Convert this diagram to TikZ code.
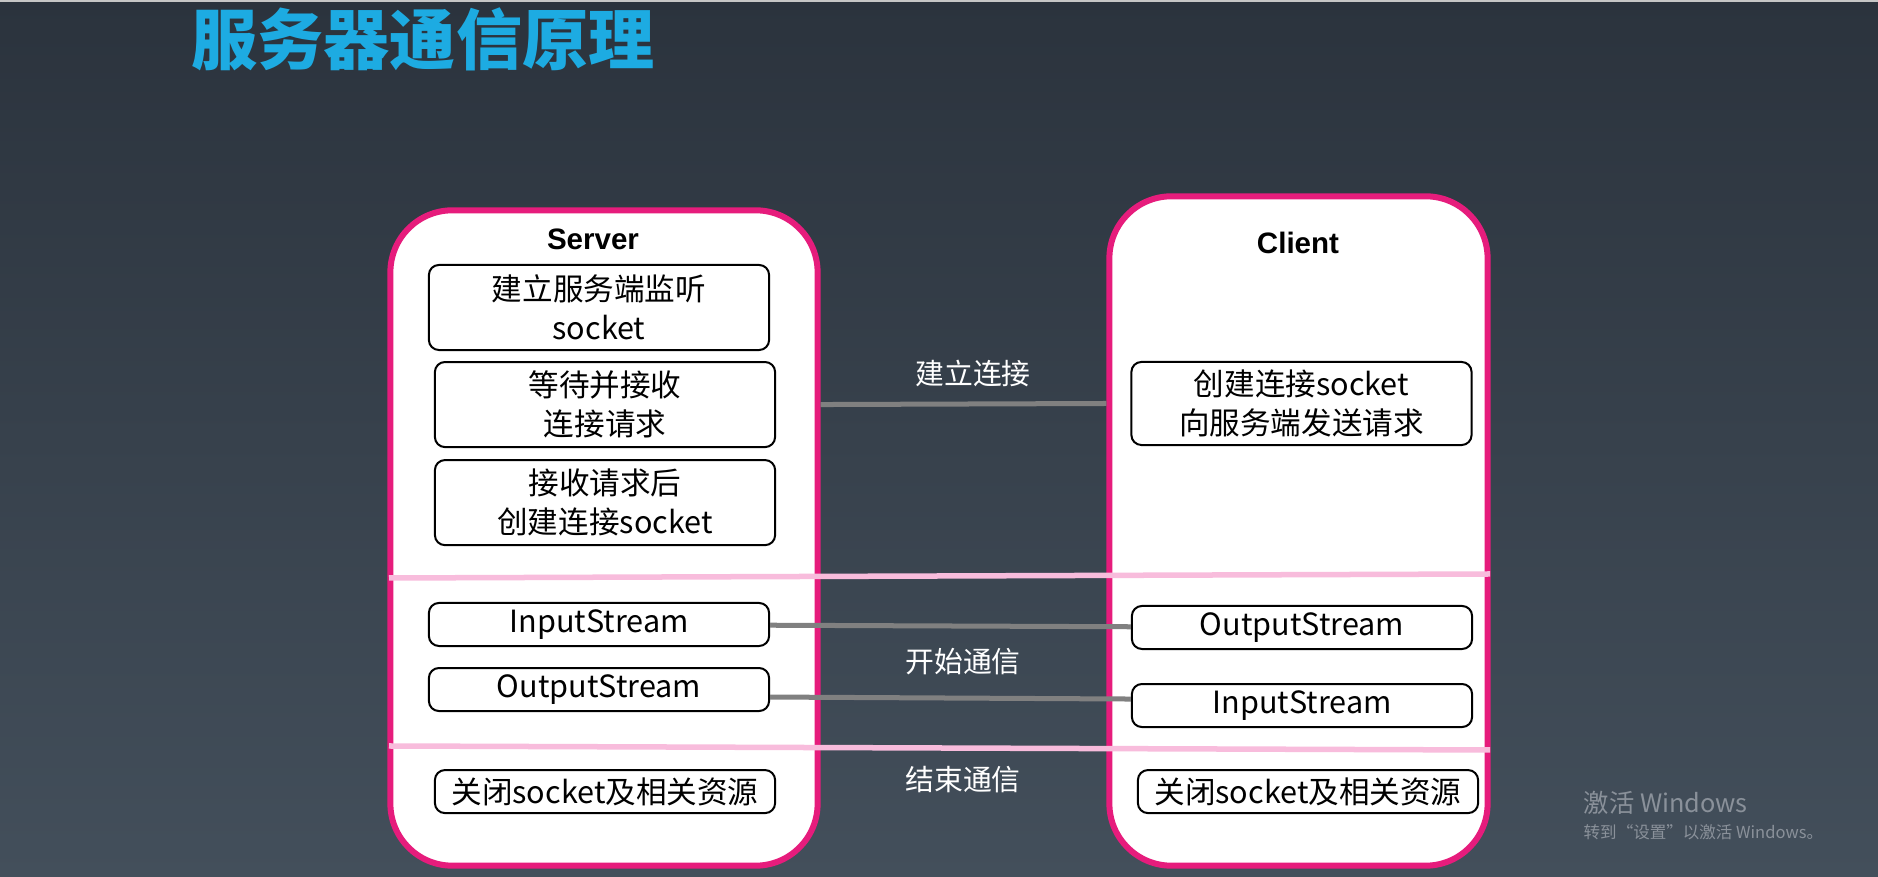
\documentclass[tikz,border=0pt]{standalone}
\usepackage{fontspec}
\setmainfont{Noto Sans CJK SC}
\newfontfamily\headfont{Liberation Sans}
\usetikzlibrary{positioning}

\definecolor{bgtop}{RGB}{43,51,61}
\definecolor{bgbot}{RGB}{67,79,91}
\definecolor{titleblue}{RGB}{29,171,226}
\definecolor{rim}{RGB}{230,28,124}
\definecolor{cut}{RGB}{248,188,220}
\definecolor{wire}{RGB}{128,128,128}
\definecolor{mark}{RGB}{138,145,154}

\begin{document}
\begin{tikzpicture}[x=0.01cm, y=-0.01cm, node distance=0.97cm]

\tikzstyle{panel} = [rectangle, draw=rim, line width=0.06cm, fill=white, rounded corners=0.62cm]
\tikzstyle{block} = [rectangle, draw, line width=0.02cm, fill=white, rounded corners=0.1cm,
minimum width=3.4cm, minimum height=0.85cm, inner sep=0pt, align=center,
font=\fontsize{8.7}{11.1}\selectfont]
\tikzstyle{thin block} = [block, minimum height=0.43cm]
\tikzstyle{side} = [font=\headfont\bfseries\fontsize{8.4}{10}\selectfont]
\tikzstyle{phase} = [text=white, font=\fontsize{8.2}{10}\selectfont]
\tikzstyle{line} = [draw=wire, line width=0.05cm]
\tikzstyle{divider} = [draw=cut, line width=0.055cm]
\tikzstyle{watermark} = [text=mark, anchor=west, inner sep=0pt]

% background
\useasboundingbox (0,0) rectangle (1878,877);
\shade [top color=bgtop, bottom color=bgbot] (0,0) rectangle (1878,877);
\fill [gray!45] (0,0) rectangle (1878,2);
\node [text=titleblue, font=\bfseries\fontsize{18.8}{22}\selectfont] (title) at (423,39) {服务器通信原理};

% panels
\node [panel, minimum width=4.27cm, minimum height=6.55cm] (server) at (604,538) {};
\node [panel, minimum width=3.78cm, minimum height=6.69cm] (client) at (1298.5,531) {};
\node [side] (server-title) at (593,239) {Server};
\node [side] (client-title) at (1298,243) {Client};

% server side
\node [block] (srv-listen) at (599,307.5) {建立服务端监听\\socket};
\node [block, below of=srv-listen, xshift=0.06cm] (srv-wait) {等待并接收\\连接请求};
\node [block, below of=srv-wait, node distance=0.98cm] (srv-accept) {接收请求后\\创建连接socket};
\node [thin block] (srv-in) at (599,624.5) {InputStream};
\node [thin block, below of=srv-in, node distance=0.65cm] (srv-out) {OutputStream};
\node [thin block, below of=srv-out, node distance=1.02cm, xshift=0.06cm] (srv-close) {关闭socket及相关资源};

% client side
\node [block, minimum height=0.83cm] (cli-conn) at (1301.5,403.5) {创建连接socket\\向服务端发送请求};
\node [thin block] (cli-out) at (1302,627.5) {OutputStream};
\node [thin block, below of=cli-out, node distance=0.78cm] (cli-in) {InputStream};
\node [thin block, below of=cli-in, node distance=0.86cm, xshift=0.06cm] (cli-close) {关闭socket及相关资源};

% phase dividers
\coordinate (cut-a) at (389,578);
\coordinate (cut-b) at (1490,574);
\coordinate (cut-c) at (389,746);
\coordinate (cut-d) at (1490,750);
\path [divider] (cut-a) -- (cut-b);
\path [divider] (cut-c) -- (cut-d);

% connections
\path [line] (srv-wait.east -| server.east) -- (cli-conn.west -| client.west);
\path [line] (srv-in) -- (cli-out);
\path [line] ([yshift=-0.075cm]srv-out.east) -- ([yshift=0.065cm]cli-in.west);

\node [phase] (link-label) at (973,373) {建立连接};
\node [phase] (talk-label) at (963,662) {开始通信};
\node [phase] (end-label) at (963,780) {结束通信};

% activation notice
\node [watermark, font=\fontsize{7.2}{9}\selectfont] (mark-a) at (1583,803) {激活 Windows};
\node [watermark, font=\fontsize{4.7}{6}\selectfont] (mark-b) at (1583,832) {转到“设置”以激活 Windows。};
\end{tikzpicture}
\end{document}
